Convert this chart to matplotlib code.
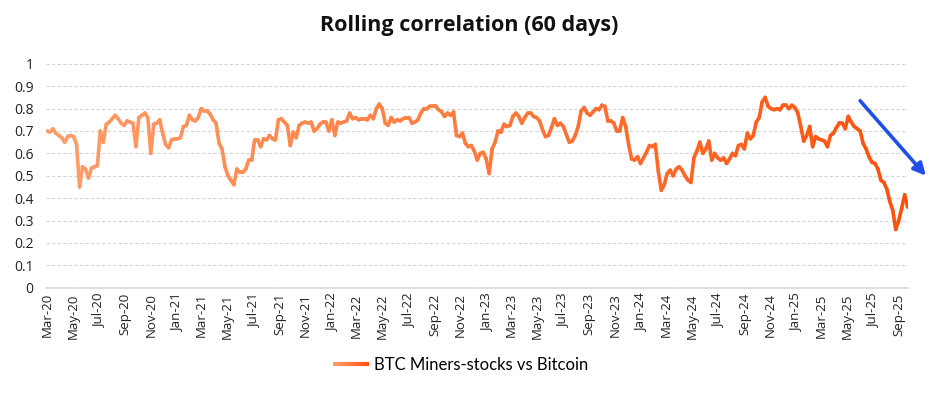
import matplotlib
matplotlib.use("Agg")
import matplotlib.pyplot as plt
import matplotlib.dates as mdates
import numpy as np
import pandas as pd
from matplotlib.collections import LineCollection
from matplotlib.colors import LinearSegmentedColormap
from matplotlib.legend_handler import HandlerBase

# weekly readings of the 60-day rolling correlation, first week = 1 Mar 2020
start_date = "2020-03-01"
corr_2020 = [0.70, 0.695, 0.71, 0.69, 0.68, 0.67, 0.65, 0.675, 0.68, 0.675,
             0.64, 0.45, 0.54, 0.53, 0.49, 0.535, 0.54, 0.545, 0.70, 0.65,
             0.73, 0.74, 0.755, 0.77, 0.755, 0.735, 0.725, 0.745, 0.74, 0.735,
             0.63, 0.76, 0.77, 0.78, 0.76, 0.60, 0.73, 0.735, 0.75, 0.69,
             0.64, 0.625, 0.66, 0.665]
corr_2021 = [0.665, 0.67, 0.72, 0.725, 0.77, 0.75, 0.745, 0.76, 0.80, 0.79,
             0.79, 0.775, 0.75, 0.735, 0.645, 0.62, 0.54, 0.50, 0.48, 0.46,
             0.53, 0.515, 0.515, 0.53, 0.57, 0.57, 0.66, 0.66, 0.63, 0.665,
             0.66, 0.68, 0.665, 0.66, 0.75, 0.755, 0.74, 0.725, 0.635, 0.695,
             0.67, 0.725, 0.735, 0.74, 0.735, 0.74, 0.70, 0.71, 0.73, 0.74,
             0.74, 0.70]
corr_2022 = [0.75, 0.68, 0.74, 0.735, 0.74, 0.745, 0.78, 0.755, 0.76, 0.75,
             0.755, 0.755, 0.75, 0.77, 0.755, 0.80, 0.82, 0.80, 0.735, 0.725,
             0.76, 0.74, 0.75, 0.745, 0.755, 0.76, 0.76, 0.735, 0.74, 0.75,
             0.78, 0.80, 0.80, 0.81, 0.81, 0.81, 0.795, 0.785, 0.765, 0.78,
             0.77, 0.785, 0.68, 0.675, 0.69, 0.645, 0.63, 0.635, 0.61, 0.57,
             0.60, 0.605]
corr_2023 = [0.575, 0.51, 0.62, 0.65, 0.70, 0.695, 0.73, 0.72, 0.725, 0.765,
             0.78, 0.765, 0.735, 0.76, 0.78, 0.78, 0.765, 0.76, 0.745, 0.705,
             0.675, 0.68, 0.715, 0.755, 0.725, 0.735, 0.72, 0.685, 0.65, 0.655,
             0.68, 0.72, 0.79, 0.805, 0.78, 0.77, 0.785, 0.80, 0.795, 0.815,
             0.81, 0.745, 0.745, 0.735, 0.70, 0.70, 0.76, 0.72, 0.64, 0.575,
             0.57, 0.585, 0.555]
corr_2024 = [0.58, 0.605, 0.635, 0.63, 0.64, 0.52, 0.435, 0.46, 0.51, 0.525,
             0.50, 0.53, 0.54, 0.525, 0.50, 0.48, 0.47, 0.58, 0.61, 0.65,
             0.60, 0.62, 0.655, 0.57, 0.60, 0.58, 0.57, 0.58, 0.555, 0.575,
             0.60, 0.59, 0.635, 0.64, 0.62, 0.69, 0.665, 0.68, 0.74, 0.76,
             0.83, 0.85, 0.81, 0.80, 0.795, 0.80, 0.795, 0.815, 0.815, 0.80,
             0.815, 0.805]
corr_2025 = [0.78, 0.72, 0.655, 0.68, 0.72, 0.63, 0.675, 0.665, 0.66, 0.655,
             0.63, 0.68, 0.69, 0.715, 0.735, 0.735, 0.71, 0.765, 0.74, 0.72,
             0.71, 0.70, 0.645, 0.62, 0.585, 0.56, 0.555, 0.53, 0.48, 0.47,
             0.44, 0.385, 0.345, 0.26, 0.30, 0.355, 0.415, 0.36]

series_name = "BTC Miners-stocks vs Bitcoin"
title = "Rolling correlation (60 days)"

values = np.array(corr_2020 + corr_2021 + corr_2022 + corr_2023 + corr_2024 + corr_2025)
dates = pd.date_range(start_date, periods=len(values), freq="7D")

plt.rcParams["font.family"] = ["Open Sans", "DejaVu Sans"]

fig = plt.figure(figsize=(9.4, 3.99), dpi=100)
ax = fig.add_axes([0.049, 0.279, 0.917, 0.561])

# line with colour fading from light salmon to deep orange
cmap = LinearSegmentedColormap.from_list("btc", ["#ff9d6a", "#ff7a3d", "#ff500e"])
xnum = mdates.date2num(dates)
pts = np.array([xnum, values]).T.reshape(-1, 1, 2)
segs = np.concatenate([pts[:-1], pts[1:]], axis=1)
lc = LineCollection(segs, cmap=cmap, norm=plt.Normalize(0, 1), linewidth=2.6,
                    capstyle="round", joinstyle="round")
lc.set_array(np.linspace(0, 1, len(segs)))
ax.add_collection(lc)

ax.set_xlim(xnum[0] - 2, xnum[-1] + 1)
ax.set_ylim(0, 1)
ax.set_yticks(np.arange(0, 1.01, 0.1))
ax.set_yticklabels(["0"] + [f"{v:.1f}" for v in np.arange(0.1, 0.95, 0.1)] + ["1"])
ax.xaxis.set_major_locator(mdates.MonthLocator(bymonth=[1, 3, 5, 7, 9, 11]))
ax.xaxis.set_major_formatter(mdates.DateFormatter("%b-%y"))
ax.tick_params(axis="x", length=0, pad=4, labelsize=9.5, rotation=90, colors="#222222")
ax.tick_params(axis="y", length=0, pad=9, labelsize=10, colors="#222222")

ax.grid(axis="y", color="#d4d4d4", linestyle=(0, (3, 2)), linewidth=0.8)
for s in ["top", "right", "left"]:
    ax.spines[s].set_visible(False)
ax.spines["bottom"].set_color("#d9d9d9")
ax.spines["bottom"].set_linewidth(1.2)
ax.set_axisbelow(True)

fig.text(0.499, 0.935, title, ha="center", va="center", fontsize=15.5,
         fontweight="bold", color="#111111")

# trend arrow
ax.annotate("", xy=(pd.Timestamp("2025-11-03"), 0.50),
            xytext=(pd.Timestamp("2025-06-01"), 0.835),
            arrowprops=dict(arrowstyle="-|>", color="#1f4fe8", lw=2.6,
                            mutation_scale=18, shrinkA=0, shrinkB=0),
            annotation_clip=False)


class GradientHandler(HandlerBase):
    def create_artists(self, legend, orig_handle, xdescent, ydescent,
                       width, height, fontsize, trans):
        xs = np.linspace(-xdescent, width - xdescent, 16)
        y = np.full_like(xs, height / 2 - ydescent)
        p = np.array([xs, y]).T.reshape(-1, 1, 2)
        sg = np.concatenate([p[:-1], p[1:]], axis=1)
        h = LineCollection(sg, cmap=orig_handle.cmap, norm=plt.Normalize(0, 1),
                           linewidth=3, transform=trans)
        h.set_array(np.linspace(0, 1, len(sg)))
        return [h]


fig.legend([lc], [series_name], loc="center", bbox_to_anchor=(0.49, 0.085),
           frameon=False, prop={"family": "Lato", "size": 12},
           handlelength=2.2, handletextpad=0.3,
           handler_map={LineCollection: GradientHandler()})

fig.savefig("out.png", dpi=100)
